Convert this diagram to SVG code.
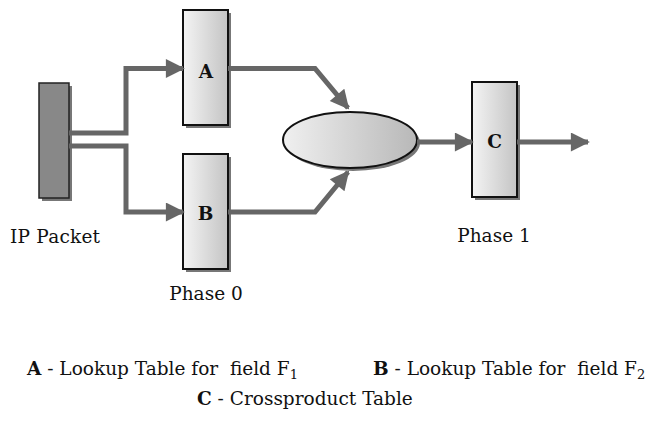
<svg xmlns="http://www.w3.org/2000/svg" width="658" height="423" viewBox="0 0 658 423">
<style>
.t{font-family:"DejaVu Serif","Liberation Serif",serif;font-size:18.5px;fill:#111}
.b{font-weight:bold}
.box{fill:url(#g);stroke:#111;stroke-width:2}
.sh{fill:#777}
.c{fill:none;stroke:#666;stroke-width:5;stroke-linejoin:miter}
</style>
<defs>
<linearGradient id="g" x1="0" y1="0" x2="1" y2="0">
<stop offset="0" stop-color="#f4f4f4"/><stop offset="1" stop-color="#c4c4c4"/>
</linearGradient>
<linearGradient id="ge" x1="0" y1="0" x2="1" y2="0">
<stop offset="0" stop-color="#f0f0f0"/><stop offset="1" stop-color="#b8b8b8"/>
</linearGradient>
<marker id="ah" viewBox="0 0 10 10" refX="9" refY="5" markerWidth="4.4" markerHeight="3.8" orient="auto" markerUnits="strokeWidth">
<path d="M0,0 L10,5 L0,10 z" fill="#666"/>
</marker>
</defs>
<g id="ip">
<rect class="sh" x="42" y="86" width="30" height="115"/>
<rect x="39" y="83" width="30" height="115" fill="#888" stroke="#222" stroke-width="1.5"/>
<text class="t" x="10" y="243" textLength="90">IP Packet</text>
</g>
<g id="A">
<rect class="sh" x="186" y="13" width="45" height="115"/>
<rect class="box" x="183" y="10" width="45" height="115"/>
<text class="t b" x="206" y="78" text-anchor="middle">A</text>
</g>
<g id="B">
<rect class="sh" x="186" y="157" width="45" height="115"/>
<rect class="box" x="183" y="154" width="45" height="115"/>
<text class="t b" x="205.5" y="220" text-anchor="middle">B</text>
<text class="t" x="206" y="300" text-anchor="middle">Phase 0</text>
</g>
<g id="X">
<ellipse cx="353" cy="143" rx="67" ry="28" fill="#777"/>
<ellipse cx="350" cy="140" rx="67" ry="28" fill="url(#ge)" stroke="#111" stroke-width="2"/>
</g>
<g id="C">
<rect class="sh" x="475" y="85" width="45" height="115"/>
<rect class="box" x="472" y="82" width="45" height="115"/>
<text class="t b" x="494.5" y="148" text-anchor="middle">C</text>
<text class="t" x="494" y="242" text-anchor="middle">Phase 1</text>
</g>
<g id="connectors">
<path class="c" d="M69,133 H126 V68.5 H183" marker-end="url(#ah)"/>
<path class="c" d="M69,146 H126 V212 H183" marker-end="url(#ah)"/>
<path class="c" d="M228,68.5 H315 L348,108" marker-end="url(#ah)"/>
<path class="c" d="M228,212 H315 L348,172" marker-end="url(#ah)"/>
<path class="c" d="M417,142 H472" marker-end="url(#ah)"/>
<path class="c" d="M517,142 H588" marker-end="url(#ah)"/>
</g>
<g id="legend">
<text class="t" x="27" y="375" xml:space="preserve"><tspan class="b">A</tspan> - Lookup Table for  field F<tspan font-size="13" dy="4">1</tspan></text>
<text class="t" x="373" y="375" xml:space="preserve"><tspan class="b">B</tspan> - Lookup Table for  field F<tspan font-size="13" dy="4">2</tspan></text>
<text class="t" x="197" y="405"><tspan class="b">C</tspan> - Crossproduct Table</text>
</g>
</svg>
